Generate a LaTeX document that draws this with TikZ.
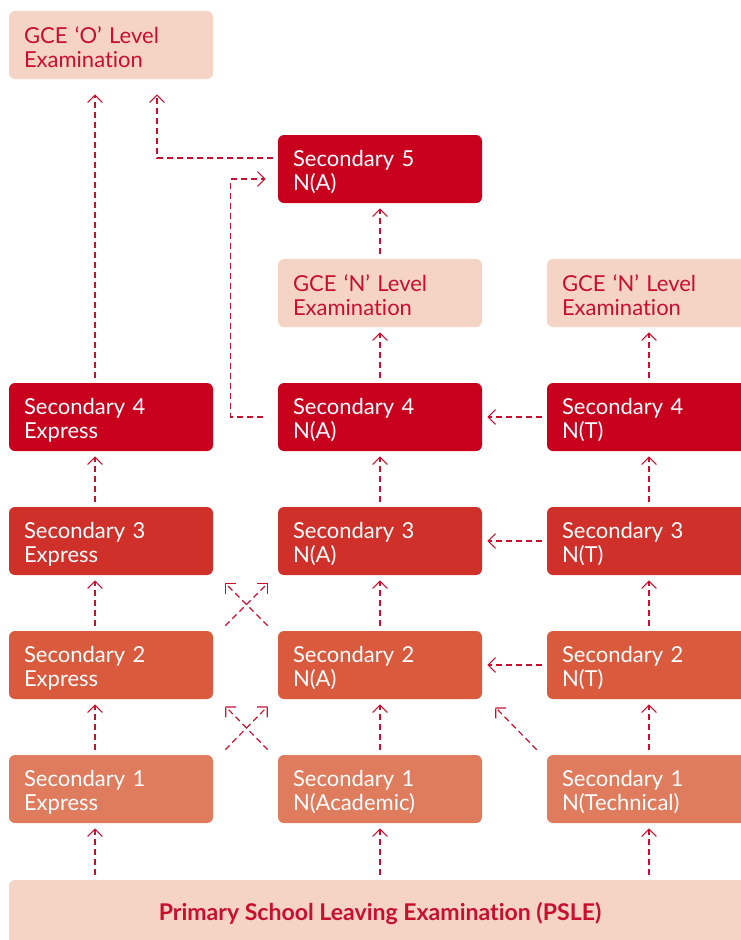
\documentclass[tikz,border=0pt]{standalone}
\usepackage{fontspec}
\setmainfont{Lato}[Ligatures={NoCommon}]
\usetikzlibrary{arrows.meta,calc}
\definecolor{peach}{HTML}{F5D3C5}
\definecolor{txtred}{HTML}{C8102E}
\definecolor{rfour}{HTML}{C8001E}
\definecolor{rthree}{HTML}{D0302A}
\definecolor{rtwo}{HTML}{DA5A3E}
\definecolor{rone}{HTML}{E07C5E}
\definecolor{arrred}{HTML}{C8102E}
\begin{document}
\begin{tikzpicture}[x=0.75pt,y=-0.75pt,
 box/.style={rectangle, rounded corners=4.5pt, minimum width=153pt, minimum height=51pt,
   text width=130.5pt, inner xsep=11.25pt, inner ysep=0pt, align=left,
   font=\fontsize{16.5}{18}\selectfont, execute at begin node={\rule{0pt}{16.5pt}}},
 lbox/.style={box, fill=peach, text=txtred},
 dbox/.style={box, text=white},
 arr/.style={draw=arrred, line width=0.9pt, dash pattern=on 4.5pt off 3pt,
   -{Straight Barb[length=5.5pt,width=11pt,line width=0.9pt]},
   shorten <=3.75pt, shorten >=3.75pt}]
\useasboundingbox (0,0) rectangle (741,940);
\clip (0,0) rectangle (741,940);
% boxes
\node[lbox] (gceo) at (111,45) {GCE ‘O’ Level\\Examination};
\node[dbox, fill=rfour] (s5) at (380,169) {Secondary 5\\N(A)};
\node[lbox] (gcena) at (380,293) {GCE ‘N’ Level\\Examination};
\node[lbox] (gcent) at (649,293) {GCE ‘N’ Level\\Examination};
\node[dbox, fill=rfour] (s4e) at (111,417) {Secondary 4\\Express};
\node[dbox, fill=rfour] (s4a) at (380,417) {Secondary 4\\N(A)};
\node[dbox, fill=rfour] (s4t) at (649,417) {Secondary 4\\N(T)};
\node[dbox, fill=rthree] (s3e) at (111,541) {Secondary 3\\Express};
\node[dbox, fill=rthree] (s3a) at (380,541) {Secondary 3\\N(A)};
\node[dbox, fill=rthree] (s3t) at (649,541) {Secondary 3\\N(T)};
\node[dbox, fill=rtwo] (s2e) at (111,665) {Secondary 2\\Express};
\node[dbox, fill=rtwo] (s2a) at (380,665) {Secondary 2\\N(A)};
\node[dbox, fill=rtwo] (s2t) at (649,665) {Secondary 2\\N(T)};
\node[dbox, fill=rone] (s1e) at (111,789) {Secondary 1\\Express};
\node[dbox, fill=rone] (s1a) at (380,789) {Secondary 1\\N(Academic)};
\node[dbox, fill=rone] (s1t) at (649,789) {Secondary 1\\N(Technical)};
\node[rectangle, rounded corners=4.5pt, fill=peach, text=txtred, minimum width=556.5pt,
  minimum height=51pt, font=\fontsize{17.3}{18}\selectfont\bfseries] (psle) at (380,914)
  {Primary School Leaving Examination (PSLE)};
\coordinate (ca) at (95,0);
% column A
\draw[arr] (psle.north -| ca) -- (s1e.south -| ca);
\draw[arr] (s1e.north -| ca) -- (s2e.south -| ca);
\draw[arr] (s2e.north -| ca) -- (s3e.south -| ca);
\draw[arr] (s3e.north -| ca) -- (s4e.south -| ca);
\draw[arr, shorten >=11.25pt] (s4e.north -| ca) -- (gceo.south -| ca);
% column B
\draw[arr] (psle.north -| s1a) -- (s1a.south);
\draw[arr] (s1a.north) -- (s2a.south);
\draw[arr] (s2a.north) -- (s3a.south);
\draw[arr] (s3a.north) -- (s4a.south);
\draw[arr] (s4a.north) -- (gcena.south);
\draw[arr] (gcena.north) -- (s5.south);
% column C
\draw[arr] (psle.north -| s1t) -- (s1t.south);
\draw[arr] (s1t.north) -- (s2t.south);
\draw[arr] (s2t.north) -- (s3t.south);
\draw[arr] (s3t.north) -- (s4t.south);
\draw[arr] (s4t.north) -- (gcent.south);
% horizontal N(T) -> N(A)
\draw[arr] (s4t.west) -- (s4a.east);
\draw[arr] (s3t.west) -- (s3a.east);
\draw[arr] (s2t.west) -- (s2a.east);
% diagonal
\draw[arr, shorten <=0pt, shorten >=0pt] ([shift={(-10,-5)}]s1t.north west) -- ([shift={(13,8)}]s2a.south east);
% crosses
\draw[arr, shorten <=0pt, shorten >=0pt] ([shift={(12,-5)}]s1e.north east) -- ([shift={(-10,7)}]s2a.south west);
\draw[arr, shorten <=0pt, shorten >=0pt] ([shift={(-10,-5)}]s1a.north west) -- ([shift={(12,7)}]s2e.south east);
\draw[arr, shorten <=0pt, shorten >=0pt] ([shift={(12,-5)}]s2e.north east) -- ([shift={(-10,8)}]s3a.south west);
\draw[arr, shorten <=0pt, shorten >=0pt] ([shift={(-10,-5)}]s2a.north west) -- ([shift={(12,8)}]s3e.south east);
% Sec5 -> GCE O
\draw[arr, shorten <=0pt, shorten >=0pt] ([shift={(-5,-11)}]s5.west) -| ([shift={(46,15)}]gceo.south);
% Sec4 N(A) -> Sec5
\draw[arr, shorten <=0pt, shorten >=0pt] ([shift={(-15,0)}]s4a.west) -- ++(-32,0) |- ([shift={(-12,10)}]s5.west);
\end{tikzpicture}
\end{document}
